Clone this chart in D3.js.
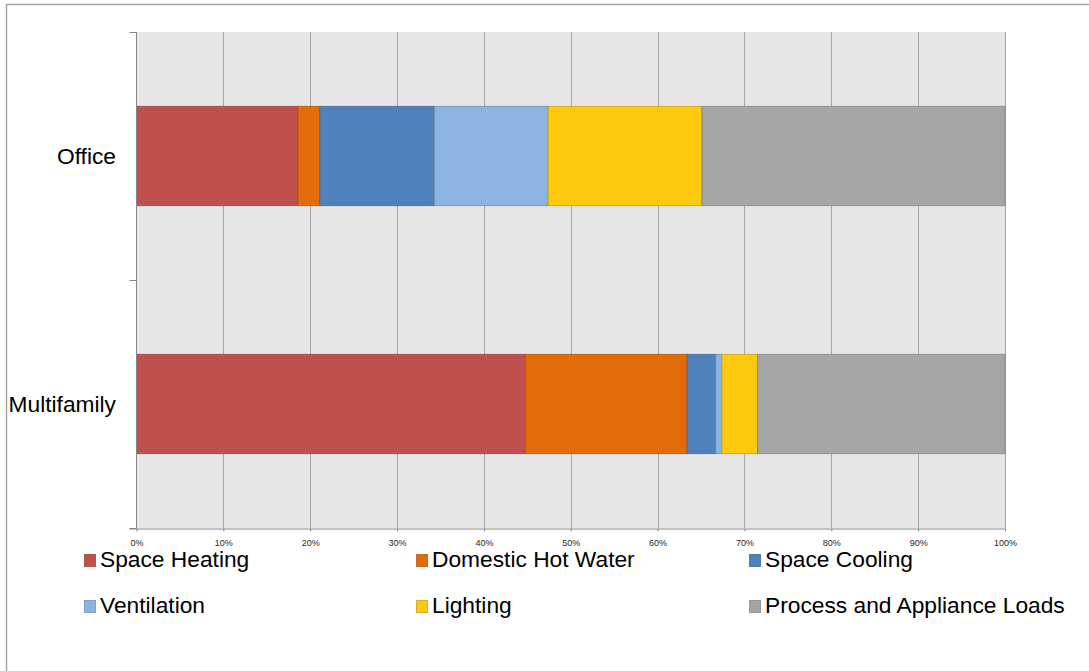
<!DOCTYPE html>
<html>
<head>
<meta charset="utf-8">
<script src="https://cdn.jsdelivr.net/npm/d3@7"></script>
<style>
  html, body { margin: 0; padding: 0; background: #fff; }
  svg { display: block; font-family: "Liberation Sans", Arial, sans-serif; }
</style>
</head>
<body>
<svg id="chart" width="1089" height="671"></svg>
<script>
// Building types, top to bottom
const categories = ["Office", "Multifamily"];

// End-use categories (stack order, left to right)
const endUses = ["Space Heating", "Domestic Hot Water", "Space Cooling", "Ventilation", "Lighting", "Process and Appliance Loads"];
const endUseColors = ["#c0504d", "#e36c0a", "#4f81bd", "#8db3e2", "#ffc90e", "#a5a5a5"];

// Share of energy use per end use (%), one array per building type
const officeShares = [18.6, 2.5, 13.2, 13.1, 17.7, 34.9];
const multifamilyShares = [44.8, 18.6, 3.3, 0.7, 4.1, 28.5];

const tickValues = [0, 0.1, 0.2, 0.3, 0.4, 0.5, 0.6, 0.7, 0.8, 0.9, 1.0];

const rows = [officeShares, multifamilyShares].map((vals, i) => {
  const r = { category: categories[i] };
  endUses.forEach((k, j) => { r[k] = vals[j] / 100; });
  return r;
});

const svg = d3.select("#chart");
const labelSize = 22.75;

// outer chart frame
svg.append("rect")
  .attr("x", 6.5).attr("y", 4.5)
  .attr("width", 1200).attr("height", 800)
  .attr("fill", "none").attr("stroke", "#a6a6a6").attr("stroke-width", 1.5);

const plot = { left: 136.5, right: 1005, top: 32, bottom: 528 };

const x = d3.scaleLinear().domain([0, 1]).range([plot.left, plot.right]);
const y = d3.scaleBand().domain(categories).range([plot.top, plot.bottom])
  .paddingInner(0.6).paddingOuter(0.3);

// plot background
svg.append("rect")
  .attr("x", plot.left).attr("y", plot.top)
  .attr("width", plot.right - plot.left).attr("height", plot.bottom - plot.top)
  .attr("fill", "#e6e6e6");

// vertical gridlines
svg.append("g").selectAll("line")
  .data(tickValues.slice(1))
  .join("line")
  .attr("x1", d => Math.round(x(d)) + 0.5).attr("x2", d => Math.round(x(d)) + 0.5)
  .attr("y1", plot.top).attr("y2", plot.bottom)
  .attr("stroke", "#a6a6a6").attr("stroke-width", 1);

// stacked bars
const stack = d3.stack().keys(endUses);
const series = stack(rows);
const color = d3.scaleOrdinal().domain(endUses).range(endUseColors);

svg.append("g").selectAll("g")
  .data(series)
  .join("g")
  .attr("fill", d => color(d.key))
  .attr("stroke", d => d3.color(color(d.key)).darker(0.7))
  .attr("stroke-opacity", 0.75)
  .attr("stroke-width", 1)
  .selectAll("rect")
  .data(d => d)
  .join("rect")
  .attr("x", d => x(d[0]))
  .attr("y", d => y(d.data.category))
  .attr("width", d => x(d[1]) - x(d[0]))
  .attr("height", y.bandwidth());

// bottom axis
const xAxis = d3.axisBottom(x)
  .tickValues(tickValues)
  .tickFormat(d3.format(".0%"))
  .tickSize(3)
  .tickPadding(8);

const gx = svg.append("g")
  .attr("transform", `translate(0,${plot.bottom + 0.5})`)
  .call(xAxis);
gx.select(".domain").attr("stroke", "#868686").attr("d", `M${plot.left - 7},0.5H${plot.right}`);
gx.selectAll(".tick line").attr("stroke", "#868686");
gx.selectAll(".tick text")
  .attr("font-family", "Liberation Sans, Arial, sans-serif")
  .attr("font-size", 9).attr("fill", "#262626");

// left axis with category separators
const leftAxis = svg.append("g");
leftAxis.append("line")
  .attr("x1", plot.left).attr("x2", plot.left)
  .attr("y1", plot.top).attr("y2", plot.bottom)
  .attr("stroke", "#868686").attr("stroke-width", 1);
const bounds = [plot.top, ...categories.map(c => y(c) - y.step() * y.paddingInner() / 2 + y.step()).slice(0, -1), plot.bottom];
leftAxis.selectAll("line.tk")
  .data(bounds)
  .join("line")
  .attr("class", "tk")
  .attr("x1", plot.left - 7).attr("x2", plot.left)
  .attr("y1", d => Math.round(d) + 0.5).attr("y2", d => Math.round(d) + 0.5)
  .attr("stroke", "#868686").attr("stroke-width", 1);

leftAxis.selectAll("text")
  .data(categories)
  .join("text")
  .attr("x", 116)
  .attr("y", d => y(d) + y.bandwidth() / 2 + 8)
  .attr("text-anchor", "end")
  .attr("font-size", labelSize)
  .attr("fill", "#000")
  .text(d => d);

// legend
const legendCols = [84, 416, 749];
const legendRows = [567, 613];
const legend = svg.append("g").selectAll("g")
  .data(endUses)
  .join("g")
  .attr("transform", (d, i) => `translate(${legendCols[i % 3]},${legendRows[Math.floor(i / 3)]})`);
legend.append("rect")
  .attr("x", 0.5).attr("y", -12.5)
  .attr("width", 11).attr("height", 12)
  .attr("fill", d => color(d))
  .attr("stroke", d => d3.color(color(d)).darker(0.7))
  .attr("stroke-opacity", 0.75);
legend.append("text")
  .attr("x", 16).attr("y", 0)
  .attr("font-size", labelSize)
  .attr("fill", "#000")
  .text(d => d);
</script>
</body>
</html>
